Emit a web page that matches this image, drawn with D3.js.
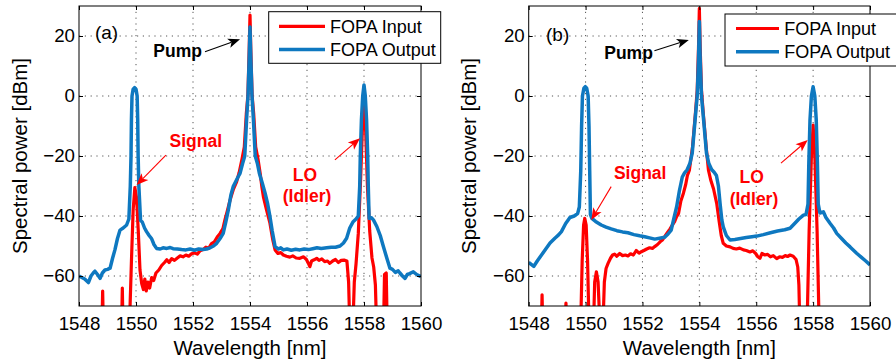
<!DOCTYPE html>
<html><head><meta charset="utf-8">
<script src="https://cdn.jsdelivr.net/npm/d3@7"></script>
<style>
body{margin:0;background:#fff}
svg{display:block}
text{font-family:"Liberation Sans",Arial,Helvetica,sans-serif}
</style>
</head><body>
<svg id="c" width="896" height="360"></svg>
<script>
// ---------- data ----------
const xTicks = [1548, 1550, 1552, 1554, 1556, 1558, 1560];
const yTicks = [-60, -40, -20, 0, 20];
const xDomain = [1548, 1560];
const yDomain = [-70, 30];
const seriesNames = ["FOPA Input", "FOPA Output"];
const seriesColors = ["#ff0000", "#0e78c0"];
const xLabel = "Wavelength [nm]";
const yLabel = "Spectral power [dBm]";

// panel (a): [wavelength nm, power dBm]
const inputA = [[1548.0,-80],[1548.8,-80],[1548.83,-65],[1548.86,-80],
[1549.49,-80],[1549.52,-64],[1549.55,-80],
[1549.76,-80],[1549.84,-55],[1549.9,-38],[1549.96,-30.5],[1550.02,-34],[1550.08,-45],[1550.14,-58],[1550.2,-62.5],[1550.26,-64.5],[1550.31,-61],[1550.36,-65],[1550.42,-62],[1550.48,-64],[1550.55,-60.5],[1550.62,-61.5],[1550.7,-59],[1550.8,-58],[1550.9,-56.5],[1551.0,-55.5],[1551.08,-54.6],[1551.16,-55.5],[1551.25,-54.2],[1551.35,-54.8],[1551.45,-54],[1551.55,-53.3],[1551.65,-53.6],[1551.75,-53],[1551.85,-53.4],[1551.95,-52.6],[1552.05,-52.3],[1552.15,-52.7],[1552.25,-51.6],[1552.35,-51.2],[1552.45,-50.4],[1552.55,-50.8],[1552.65,-49.2],[1552.75,-48.6],[1552.85,-47],[1552.95,-45.8],[1553.05,-44.2],[1553.12,-41.3],[1553.2,-38.5],[1553.3,-34.7],[1553.42,-31],[1553.53,-28.6],[1553.62,-25.5],[1553.72,-21],[1553.8,-17],[1553.87,-6],[1553.925,0],[1553.97,15],[1554.0,27],[1554.03,15],[1554.075,0],[1554.13,-6],[1554.2,-17],[1554.28,-21],[1554.36,-26],[1554.42,-30.5],[1554.47,-33.6],[1554.58,-38],[1554.7,-42.4],[1554.8,-48],[1554.88,-51.3],[1554.98,-52.5],[1555.08,-52.2],[1555.17,-53],[1555.28,-53.4],[1555.4,-53.7],[1555.5,-53.3],[1555.62,-54],[1555.75,-54.1],[1555.88,-53.6],[1555.98,-54.5],[1556.05,-55.8],[1556.1,-56.9],[1556.16,-55],[1556.25,-54.6],[1556.34,-54.1],[1556.42,-54.8],[1556.52,-54.3],[1556.62,-55.2],[1556.72,-55],[1556.8,-55.8],[1556.9,-55],[1557.0,-54.5],[1557.1,-55.5],[1557.2,-54.8],[1557.3,-54.7],[1557.4,-55],[1557.46,-62],[1557.51,-80],[1557.6,-80],[1557.66,-62],[1557.72,-56],[1557.8,-45.8],[1557.88,-28],[1557.94,-12],[1558.0,0],[1558.06,-12],[1558.12,-30],[1558.2,-45],[1558.28,-54],[1558.34,-57],[1558.4,-63],[1558.45,-80],[1558.68,-80],[1558.72,-59.5],[1558.78,-59],[1558.82,-80],[1560,-80]];

const outputA = [[1548.0,-60],[1548.1,-60.5],[1548.2,-61],[1548.33,-62.2],[1548.42,-60],[1548.5,-59],[1548.56,-58.4],[1548.65,-59.5],[1548.74,-60.8],[1548.82,-59],[1548.91,-58],[1549.0,-57.8],[1549.09,-57.4],[1549.18,-54],[1549.26,-51.3],[1549.35,-47.5],[1549.44,-44.7],[1549.55,-44],[1549.67,-43],[1549.75,-41],[1549.8,-30],[1549.825,-20],[1549.84,-8],[1549.86,0],[1549.9,2.3],[1549.95,2.8],[1550.0,2.3],[1550.04,0],[1550.06,-8],[1550.075,-20],[1550.1,-30],[1550.16,-41.5],[1550.22,-42],[1550.3,-44],[1550.37,-45.2],[1550.46,-46.5],[1550.55,-47.6],[1550.63,-49.5],[1550.72,-50.8],[1550.85,-51],[1550.95,-50.6],[1551.08,-50.8],[1551.2,-50.5],[1551.3,-50.9],[1551.45,-51],[1551.6,-51.2],[1551.75,-51.3],[1551.9,-51],[1552.05,-51.4],[1552.2,-51],[1552.35,-51.2],[1552.48,-51],[1552.6,-50.6],[1552.72,-50],[1552.83,-49.1],[1552.95,-47.5],[1553.06,-45.8],[1553.15,-42],[1553.24,-38],[1553.33,-33],[1553.41,-30.2],[1553.5,-28.5],[1553.58,-27],[1553.65,-25.8],[1553.74,-22.5],[1553.816,-20],[1553.88,-8],[1553.93,0],[1553.97,12],[1554.0,23],[1554.03,12],[1554.07,0],[1554.12,-8],[1554.184,-20],[1554.26,-22.5],[1554.33,-25.8],[1554.43,-29],[1554.53,-32.4],[1554.62,-36],[1554.7,-40.2],[1554.78,-45],[1554.88,-50.2],[1555.0,-51],[1555.08,-50.6],[1555.17,-51.3],[1555.3,-51],[1555.45,-51.4],[1555.6,-51.1],[1555.75,-51.3],[1555.9,-51],[1556.05,-51.2],[1556.2,-50.9],[1556.35,-50.6],[1556.5,-50.8],[1556.69,-50.6],[1556.85,-50.4],[1557.0,-50.4],[1557.16,-50],[1557.28,-49],[1557.39,-47.4],[1557.5,-44],[1557.62,-41.9],[1557.72,-41],[1557.8,-40],[1557.85,-30],[1557.87,-20],[1557.91,-8],[1557.955,0],[1558.0,3.7],[1558.045,0],[1558.09,-8],[1558.13,-20],[1558.15,-30],[1558.18,-40.8],[1558.26,-40.6],[1558.33,-41.3],[1558.45,-43.5],[1558.57,-46.5],[1558.68,-50.2],[1558.8,-54],[1558.91,-57.4],[1559.0,-57.8],[1559.1,-58.8],[1559.2,-58.3],[1559.26,-59],[1559.35,-60],[1559.44,-60.8],[1559.52,-59.5],[1559.6,-59.2],[1559.73,-58.6],[1559.85,-59.5],[1560.0,-60.2]];

// panel (b)
const inputB = [[1548.0,-80],[1548.44,-80],[1548.47,-66.3],[1548.5,-80],[1549.28,-80],[1549.31,-69],[1549.34,-80],
[1549.82,-80],[1549.88,-55],[1549.93,-43],[1549.97,-40.8],[1550.02,-43],[1550.07,-55],[1550.13,-80],[1550.27,-80],[1550.32,-62],[1550.38,-58.6],[1550.44,-62],[1550.52,-80],[1550.6,-80],[1550.66,-62],[1550.72,-57.5],[1550.79,-55.8],[1550.88,-54],[1550.95,-53],[1551.02,-52.7],[1551.1,-53.4],[1551.2,-52.5],[1551.3,-53.2],[1551.4,-53],[1551.49,-53.3],[1551.58,-52.6],[1551.68,-53],[1551.78,-51.5],[1551.88,-52.4],[1551.96,-51.9],[1552.05,-51.5],[1552.15,-51],[1552.25,-50.6],[1552.35,-50.8],[1552.43,-50.2],[1552.53,-49.5],[1552.62,-48.6],[1552.7,-48],[1552.78,-46.9],[1552.88,-45.5],[1552.97,-44.3],[1553.05,-43],[1553.13,-41.9],[1553.2,-40.2],[1553.27,-39.1],[1553.35,-35],[1553.44,-32.4],[1553.52,-29.5],[1553.58,-26.5],[1553.65,-24.7],[1553.76,-17],[1553.86,-6],[1553.925,2],[1553.97,16],[1554.0,29.2],[1554.03,16],[1554.075,2],[1554.14,-6],[1554.24,-17],[1554.32,-24.7],[1554.4,-28],[1554.5,-31],[1554.61,-35.8],[1554.7,-42],[1554.77,-46.5],[1554.84,-49.1],[1554.95,-50],[1555.08,-50.3],[1555.19,-50.8],[1555.3,-51],[1555.42,-50.7],[1555.55,-51.3],[1555.65,-51.5],[1555.78,-52],[1555.88,-51.6],[1555.98,-52.5],[1556.05,-53.5],[1556.13,-54.1],[1556.2,-52.5],[1556.3,-53],[1556.4,-52.8],[1556.5,-53.6],[1556.6,-53.2],[1556.72,-54.2],[1556.82,-53.6],[1556.92,-53.8],[1557.02,-53.2],[1557.1,-53.5],[1557.19,-53],[1557.3,-53.4],[1557.4,-54.5],[1557.46,-57],[1557.5,-63],[1557.54,-80],[1557.78,-80],[1557.86,-45],[1557.94,-20],[1558.0,-9.7],[1558.06,-20],[1558.14,-45],[1558.22,-80],[1560,-80]];

const outputB = [[1548.0,-55.5],[1548.1,-56.2],[1548.18,-56.8],[1548.3,-55],[1548.45,-53],[1548.6,-51],[1548.75,-49],[1548.92,-47.4],[1549.05,-46.3],[1549.15,-45.2],[1549.3,-42.5],[1549.45,-40.5],[1549.6,-40],[1549.72,-39.2],[1549.78,-37],[1549.83,-25],[1549.86,-10],[1549.89,0],[1549.94,2.6],[1549.99,3.1],[1550.04,2.6],[1550.09,0],[1550.12,-10],[1550.145,-25],[1550.17,-39.5],[1550.22,-40.8],[1550.35,-41.8],[1550.55,-43],[1550.72,-43.7],[1550.9,-44.3],[1551.1,-44.9],[1551.3,-45.3],[1551.49,-45.6],[1551.7,-46.2],[1551.9,-46.6],[1552.08,-46.9],[1552.25,-47.3],[1552.43,-47.7],[1552.6,-47.4],[1552.78,-47.1],[1552.9,-46],[1553.01,-44.7],[1553.1,-41],[1553.2,-37],[1553.3,-31.5],[1553.4,-27],[1553.48,-25.6],[1553.57,-24.6],[1553.67,-22.4],[1553.75,-19],[1553.85,-8],[1553.925,0],[1553.97,12],[1554.0,24.8],[1554.03,12],[1554.075,0],[1554.15,-8],[1554.25,-19],[1554.33,-22.4],[1554.43,-24.5],[1554.52,-25.4],[1554.6,-26.5],[1554.67,-30],[1554.73,-36],[1554.79,-41.3],[1554.84,-43.6],[1554.95,-46.5],[1555.08,-48],[1555.25,-47.8],[1555.45,-47.5],[1555.65,-47.2],[1555.85,-46.9],[1556.02,-46.7],[1556.25,-46.2],[1556.5,-45.6],[1556.75,-45],[1557.0,-44.6],[1557.19,-44.1],[1557.35,-42.5],[1557.5,-41],[1557.66,-39.7],[1557.75,-39.5],[1557.82,-36],[1557.85,-22],[1557.89,-8],[1557.94,0],[1558.0,3.1],[1558.06,0],[1558.11,-8],[1558.15,-22],[1558.18,-36],[1558.24,-39],[1558.36,-38.6],[1558.45,-40.5],[1558.6,-42.5],[1558.72,-44],[1558.83,-45.8],[1559.0,-47.5],[1559.15,-49],[1559.3,-50.3],[1559.53,-52.4],[1559.7,-53.8],[1559.85,-55],[1560.0,-56.3]];

// annotations (data coordinates): [text, wavelength, dBm, anchor, colour, weight, size]
const textsA = [["(a)",1548.56,18.9,"start","#000","normal",19],
  ["Pump",1551.46,12.9,"middle","#000","bold",17.5],
  ["Signal",1552.10,-17.1,"middle","#ff0000","bold",17.5],
  ["LO",1555.93,-28.2,"middle","#ff0000","bold",17.5],
  ["(Idler)",1556.0,-35.2,"middle","#ff0000","bold",17.5]];
const arrowsA = [[1552.42,14.77,1553.65,18.9,"#000"],
  [1551.05,-19.7,1550.02,-29.7,"#ff0000"],
  [1556.98,-21.3,1557.86,-14.1,"#ff0000"]];
const textsB = [["(b)",1548.61,18.4,"start","#000","normal",19],
  ["Pump",1551.51,12.4,"middle","#000","bold",17.5],
  ["Signal",1551.92,-27.8,"middle","#ff0000","bold",17.5],
  ["LO",1555.84,-29.1,"middle","#ff0000","bold",17.5],
  ["(Idler)",1555.92,-36.2,"middle","#ff0000","bold",17.5]];
const arrowsB = [[1552.42,15.1,1553.63,18.7,"#000"],
  [1550.9,-30.2,1550.2,-41.3,"#ff0000"],
  [1556.87,-22.4,1557.81,-14.7,"#ff0000"]];

// ---------- layout ----------
const TOP = 6, BOTTOM = 306;
const panels = [
  {id:"a", left:79, right:421, input:inputA, output:outputA, texts:textsA, arrows:arrowsA,
   ylabX:26.5, legend:{x:268.7, y:11.7, w:172, h:51.6, l1:279, l2:325, tx:330, r1:26.3, r2:49.5}},
  {id:"b", left:528.7, right:870, input:inputB, output:outputB, texts:textsB, arrows:arrowsB,
   ylabX:476, legend:{x:725, y:14, w:172, h:52, l1:736, l2:779, tx:784.3, r1:28.5, r2:51.8}}
];

const svg = d3.select("#c");
const defs = svg.append("defs");

function arrow(g, x1, y1, x2, y2, color){
  const dx = x2-x1, dy = y2-y1, L = Math.hypot(dx,dy), ux = dx/L, uy = dy/L, px = -uy, py = ux;
  const hl = 12, hw = 4.8, back = 3;
  const bx = x2-ux*hl, by = y2-uy*hl;
  g.append("line").attr("x1",x1).attr("y1",y1).attr("x2",bx+ux*back).attr("y2",by+uy*back)
    .attr("stroke",color).attr("stroke-width",1.1);
  g.append("path")
    .attr("d",`M${x2},${y2}L${bx+px*hw},${by+py*hw}L${bx+ux*back},${by+uy*back}L${bx-px*hw},${by-py*hw}Z`)
    .attr("fill",color);
}

panels.forEach(P => {
  const x = d3.scaleLinear().domain(xDomain).range([P.left, P.right]);
  const y = d3.scaleLinear().domain(yDomain).range([BOTTOM, TOP]);
  const g = svg.append("g");

  // grid (dotted)
  const grid = g.append("g").attr("stroke","#555").attr("stroke-width",1).attr("stroke-dasharray","1.2,4.6");
  grid.selectAll("line.gx").data(xTicks.filter(d => d > xDomain[0] && d < xDomain[1])).join("line")
    .attr("x1",d=>x(d)).attr("x2",d=>x(d)).attr("y1",TOP).attr("y2",BOTTOM);
  grid.selectAll("line.gy").data(yTicks).join("line")
    .attr("y1",d=>y(d)).attr("y2",d=>y(d)).attr("x1",P.left).attr("x2",P.right);

  // clip
  defs.append("clipPath").attr("id","clip"+P.id).append("rect")
    .attr("x",P.left).attr("y",TOP).attr("width",P.right-P.left).attr("height",BOTTOM-TOP);

  const line = d3.line().x(d=>x(d[0])).y(d=>y(d[1]));
  const cg = g.append("g").attr("clip-path",`url(#clip${P.id})`);
  cg.append("path").datum(P.input).attr("d",line).attr("fill","none")
    .attr("stroke",seriesColors[0]).attr("stroke-width",3.2).attr("stroke-linejoin","round");
  cg.append("path").datum(P.output).attr("d",line).attr("fill","none")
    .attr("stroke",seriesColors[1]).attr("stroke-width",3.5).attr("stroke-linejoin","round");

  // axes
  const fmt = d3.format("d");
  const ax = (gen, tr, labels) => {
    const a = g.append("g").attr("transform",tr).call(gen);
    a.select(".domain").remove();
    a.selectAll("text").attr("font-size","18.7px").attr("fill","#000")
      .attr("font-family",'"Liberation Sans",Arial,sans-serif');
    if(!labels) a.selectAll("text").remove();
    a.selectAll("line").attr("stroke","#000");
    return a;
  };
  ax(d3.axisBottom(x).tickValues(xTicks).tickSizeInner(-4).tickSizeOuter(0).tickPadding(11).tickFormat(fmt),
     `translate(0,${BOTTOM})`, true);
  ax(d3.axisTop(x).tickValues(xTicks).tickSizeInner(-4).tickSizeOuter(0).tickFormat(fmt),
     `translate(0,${TOP})`, false);
  ax(d3.axisLeft(y).tickValues(yTicks).tickSizeInner(-4).tickSizeOuter(0).tickPadding(4).tickFormat(fmt),
     `translate(${P.left},0)`, true);
  ax(d3.axisRight(y).tickValues(yTicks).tickSizeInner(-4).tickSizeOuter(0).tickFormat(fmt),
     `translate(${P.right},0)`, false);

  g.append("rect").attr("x",P.left).attr("y",TOP).attr("width",P.right-P.left).attr("height",BOTTOM-TOP)
    .attr("fill","none").attr("stroke","#000").attr("stroke-width",1);

  // axis labels
  g.append("text").attr("x",(P.left+P.right)/2).attr("y",355).attr("text-anchor","middle")
    .attr("font-size","20.5px").text(xLabel);
  g.append("text").attr("transform",`translate(${P.ylabX},${(TOP+BOTTOM)/2}) rotate(-90)`)
    .attr("text-anchor","middle").attr("font-size","20.5px").text(yLabel);

  // annotations
  P.texts.forEach(t => {
    g.append("text").attr("x",x(t[1])).attr("y",y(t[2])).attr("text-anchor",t[3])
      .attr("fill",t[4]).attr("font-weight",t[5]).attr("font-size",t[6]+"px").text(t[0]);
  });
  P.arrows.forEach(a => arrow(g, x(a[0]), y(a[1]), x(a[2]), y(a[3]), a[4]));

  // legend
  const L = P.legend;
  const lg = g.append("g");
  lg.append("rect").attr("x",L.x).attr("y",L.y).attr("width",L.w).attr("height",L.h)
    .attr("fill","#fff").attr("stroke","#000").attr("stroke-width",1);
  [L.r1, L.r2].forEach((ry,i) => {
    lg.append("line").attr("x1",L.l1).attr("x2",L.l2).attr("y1",ry).attr("y2",ry)
      .attr("stroke",seriesColors[i]).attr("stroke-width",i ? 3.5 : 3.2);
    lg.append("text").attr("x",L.tx).attr("y",ry).attr("dy","0.35em")
      .attr("font-size","18px").attr("fill","#000").text(seriesNames[i]);
  });
});
</script>
</body></html>
